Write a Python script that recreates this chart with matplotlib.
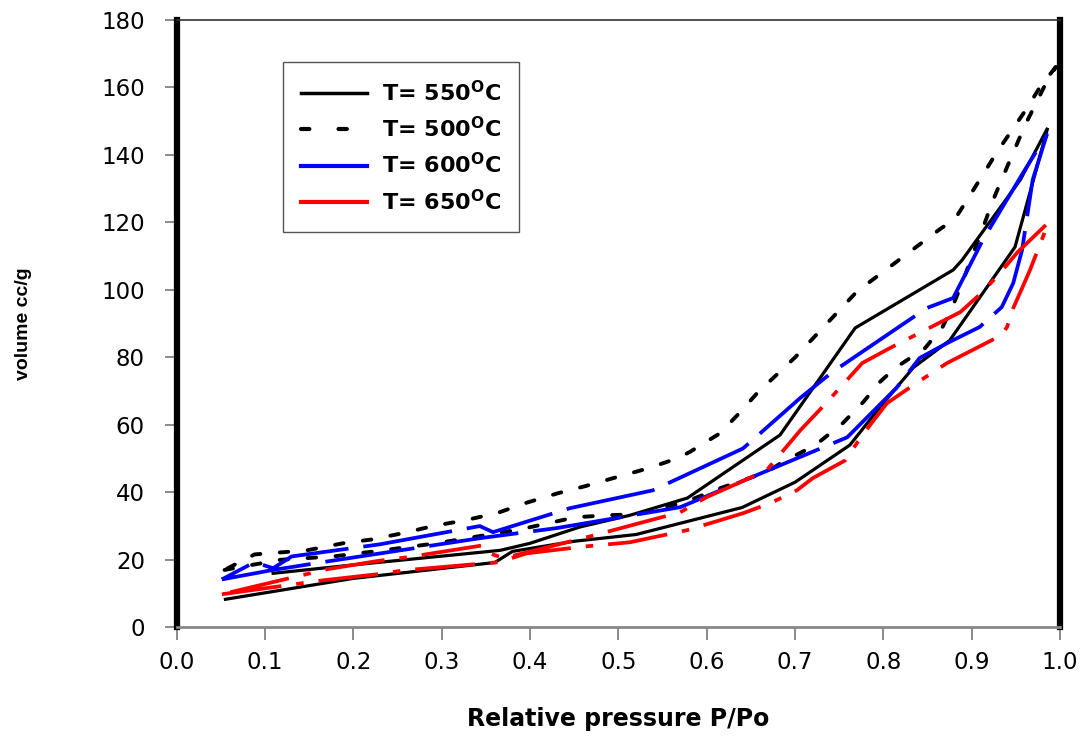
import matplotlib
matplotlib.use('Agg')
import matplotlib.pyplot as plt

plt.rcParams['font.family'] = ['DejaVu Sans']
plt.rcParams['mathtext.fontset'] = 'custom'
plt.rcParams['mathtext.rm'] = 'DejaVu Sans'
plt.rcParams['mathtext.bf'] = 'DejaVu Sans:bold'

# T = 550 C  (adsorption branch, then desorption branch)
x550_ads = [0.055, 0.20, 0.36, 0.38, 0.45, 0.52, 0.64, 0.70, 0.762, 0.796, 0.834, 0.875, 0.949, 0.986]
y550_ads = [8.3, 14.5, 19.2, 22.5, 25.5, 27.5, 35.5, 43.0, 54.0, 65.2, 77.0, 85.0, 112.7, 148.0]
x550_des = [0.986, 0.955, 0.889, 0.879, 0.768, 0.683, 0.578, 0.513, 0.456, 0.40, 0.366, 0.20, 0.109]
y550_des = [148.0, 132.6, 108.8, 105.9, 88.7, 57.0, 38.3, 33.2, 29.7, 24.9, 22.8, 18.5, 16.0]

# T = 500 C
x500_ads = [0.054, 0.117, 0.177, 0.233, 0.294, 0.388, 0.42, 0.451, 0.487, 0.521, 0.555, 0.581,
            0.615, 0.668, 0.686, 0.723, 0.754, 0.777, 0.796, 0.813, 0.847, 0.867, 0.879, 0.889,
            0.915, 0.924, 0.94, 0.96, 0.983, 0.995]
y500_ads = [17.0, 20.0, 21.0, 22.8, 24.9, 29.0, 30.8, 32.6, 33.2, 33.5, 35.6, 37.7,
            41.2, 46.0, 49.0, 54.0, 60.5, 66.7, 72.7, 76.8, 82.7, 89.0, 95.5, 102.0,
            120.0, 126.5, 136.4, 148.6, 160.7, 166.0]
x500_des = [0.995, 0.977, 0.963, 0.946, 0.929, 0.898, 0.881, 0.864, 0.77, 0.70, 0.657, 0.638,
            0.615, 0.581, 0.566, 0.532, 0.498, 0.462, 0.431, 0.397, 0.362, 0.326, 0.29, 0.256,
            0.22, 0.188, 0.147, 0.088, 0.054]
y500_des = [166.0, 160.0, 154.0, 147.5, 141.0, 128.0, 121.0, 118.0, 99.5, 80.0, 69.4, 63.8,
            57.5, 52.0, 50.0, 47.0, 44.5, 41.8, 39.7, 37.0, 33.8, 31.7, 30.0, 27.9,
            26.0, 24.9, 22.8, 21.6, 17.0]

# T = 600 C
x600_ads = [0.051, 0.109, 0.165, 0.343, 0.43, 0.57, 0.683, 0.759, 0.815, 0.841, 0.872, 0.909,
            0.934, 0.947, 0.957, 0.969, 0.985]
y600_ads = [14.2, 17.0, 19.3, 26.4, 29.4, 35.6, 48.0, 56.3, 71.0, 79.8, 84.2, 89.0,
            94.9, 102.0, 111.8, 132.6, 146.0]
x600_des = [0.985, 0.96, 0.913, 0.879, 0.849, 0.742, 0.706, 0.641, 0.539, 0.445, 0.358, 0.343,
            0.23, 0.13, 0.109, 0.088, 0.051]
y600_des = [146.0, 135.5, 115.0, 97.6, 94.6, 75.6, 68.0, 53.0, 40.6, 35.3, 28.2, 30.0,
            24.6, 21.0, 17.5, 19.3, 14.2]

# T = 650 C
x650_ads = [0.051, 0.165, 0.226, 0.258, 0.364, 0.396, 0.434, 0.464, 0.513, 0.578, 0.607, 0.641,
            0.672, 0.702, 0.72, 0.757, 0.77, 0.785, 0.804, 0.834, 0.872, 0.934, 0.94, 0.947,
            0.957, 0.966, 0.987]
y650_ads = [9.8, 13.9, 15.7, 16.9, 19.3, 21.9, 23.1, 24.0, 25.2, 28.8, 31.1, 33.8,
            36.8, 40.6, 44.2, 49.5, 54.6, 60.0, 66.4, 71.8, 78.3, 86.6, 89.0, 94.6,
            100.5, 105.9, 120.0]
x650_des = [0.987, 0.952, 0.932, 0.912, 0.887, 0.807, 0.776, 0.736, 0.706, 0.668, 0.638, 0.60,
            0.57, 0.46, 0.37, 0.354, 0.347, 0.262, 0.226, 0.17, 0.051]
y650_des = [120.0, 111.2, 105.0, 99.3, 93.4, 82.7, 78.3, 66.7, 58.4, 46.6, 43.0, 38.6,
            34.1, 26.4, 20.5, 21.9, 24.3, 20.8, 19.6, 17.2, 9.8]

labels = ['T= 550$^{\\mathbf{O}}$C', 'T= 500$^{\\mathbf{O}}$C',
          'T= 600$^{\\mathbf{O}}$C', 'T= 650$^{\\mathbf{O}}$C']

fig = plt.figure(figsize=(10.85, 7.38), dpi=100)
ax = fig.add_axes([0.163, 0.150, 0.814, 0.823])

lw = 2.3
ax.plot(x550_ads + x550_des, y550_ads + y550_des, color='black', lw=lw,
        solid_joinstyle='miter')
ax.plot(x500_ads, y500_ads, color='black', lw=lw + 0.5, linestyle=(0, (2.2, 5)),
        dash_capstyle='round')
ax.plot(x500_des, y500_des, color='black', lw=lw + 0.5, linestyle=(0, (2.2, 5)),
        dash_capstyle='round')
ax.plot(x600_ads + x600_des, y600_ads + y600_des, color='#0000ff', lw=lw + 0.4,
        linestyle=(0, (24, 4)))
ax.plot(x650_ads + x650_des, y650_ads + y650_des, color='#ff0000', lw=lw + 0.4,
        linestyle=(0, (16, 4, 2, 4)))

# legend proxies
h1, = ax.plot([], [], color='black', lw=2.5)
h2, = ax.plot([], [], color='black', lw=3, linestyle=(0, (2, 7)), dash_capstyle='round')
h3, = ax.plot([], [], color='#0000ff', lw=3)
h4, = ax.plot([], [], color='#ff0000', lw=3)
leg = ax.legend([h1, h2, h3, h4], labels, loc='upper left', bbox_to_anchor=(0.12, 0.931),
                borderaxespad=0, fancybox=False, framealpha=1, handlelength=3.0,
                labelspacing=0.5, borderpad=0.8, handletextpad=0.65,
                prop={'weight': 'bold', 'size': 16})
leg.get_frame().set_edgecolor('#555555')
leg.get_frame().set_linewidth(1.0)

ax.set_xlim(0, 1.0)
ax.set_ylim(0, 180)
ax.set_xticks([i / 10 for i in range(11)])
ax.set_yticks(range(0, 181, 20))
ax.tick_params(axis='both', direction='out', length=9, width=1.2, color='#777777',
               labelsize=16.5)
ax.tick_params(axis='x', pad=8)
ax.tick_params(axis='y', pad=14)

for side in ['left', 'right']:
    ax.spines[side].set_linewidth(4.5)
    ax.spines[side].set_color('black')
ax.spines['top'].set_linewidth(1.2)
ax.spines['top'].set_color('#333333')
ax.spines['bottom'].set_linewidth(2)
ax.spines['bottom'].set_color('#888888')

ax.set_xlabel('Relative pressure P/Po', fontsize=17, fontweight='bold', labelpad=24)
ax.set_ylabel('volume cc/g', family='Liberation Sans', fontsize=14,
              fontweight='bold', labelpad=50)

fig.savefig('out.png', dpi=100)
